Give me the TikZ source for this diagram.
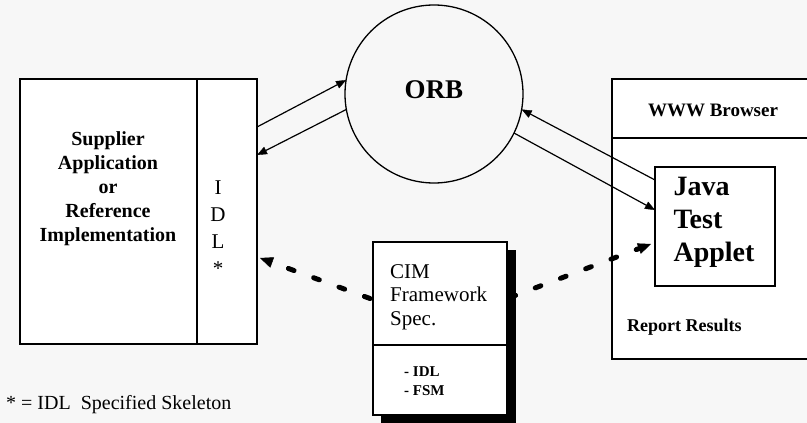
\documentclass[tikz,border=0pt]{standalone}
\usepackage{fontspec}
\setmainfont{Liberation Serif}
\usetikzlibrary{arrows.meta,calc}
\begin{document}
\begin{tikzpicture}[x=1pt,y=-1pt,
  box/.style={draw,line width=1.3pt,fill=white,inner sep=0pt,outer sep=0pt},
  conn/.style={line width=1.2pt,-{Triangle[length=10pt,width=8pt,line width=0.4pt]}},
  dconn/.style={line width=5pt,line cap=round,dash pattern=on 6pt off 21pt,-{Triangle[length=13pt,width=11pt,line width=0.4pt]}},
  txt/.style={inner sep=0pt}]
\clip (0,0) rectangle (807,423);
\fill[white!97!black] (0,0) rectangle (807,423);
% left boxes
\node[box,minimum width=177pt,minimum height=265pt] (supp) at (108.5,211.5) {};
\node[box,minimum width=60pt,minimum height=265pt] (idl) at (227,211.5) {};
% ORB
\node[circle,draw,line width=1.3pt,minimum size=178pt,inner sep=0pt,outer sep=0pt] (orb) at (434,94) {};
% browser
\node[box,minimum width=220pt,minimum height=59pt,anchor=north west] (bhead) at (612,79) {};
\node[box,minimum width=220pt,minimum height=221pt,anchor=north west] (bbody) at (612,138) {};
\node[box,minimum width=120pt,minimum height=119pt] (java) at (715,226.5) {};
% CIM
\fill (381,250) rectangle (516,423);
\node[box,minimum width=134pt,minimum height=103pt,anchor=north west] (cimtop) at (373,242) {};
\node[box,minimum width=134pt,minimum height=70pt,anchor=north west] (cimbot) at (373,345) {};
% texts
\node[txt,font=\bfseries\fontsize{20}{24}\selectfont,align=center] (supptext) at (108,189) {Supplier\\Application\\or\\Reference\\Implementation};
\node[txt,font=\fontsize{21}{27}\selectfont,align=center] (idltext) at (218,228) {I\\D\\L\\*};
\node[txt,font=\bfseries\fontsize{27}{30}\selectfont] (orbtext) at (434,90) {ORB};
\node[txt,font=\bfseries\fontsize{19}{22}\selectfont] (wwwtext) at (713,110) {WWW Browser};
\node[txt,font=\bfseries\fontsize{28}{33}\selectfont,align=left] (javatext) at (714,222) {Java\\Test\\Applet};
\node[txt,font=\bfseries\fontsize{18}{20}\selectfont,anchor=west] (report) at (627,327) {Report Results};
\node[txt,font=\fontsize{21}{23.5}\selectfont,align=left,anchor=west] (cimtext) at (390,297) {CIM\\Framework\\Spec.};
\node[txt,font=\bfseries\fontsize{15}{19}\selectfont,align=left,anchor=west] (cimlist) at (404,381) {- IDL\\- FSM};
\node[txt,font=\fontsize{20}{24}\selectfont,anchor=west] (foot) at (6,405) {* = IDL\ \ Specified Skeleton};
% connectors
\draw[conn] ($(idl.north east)+(0,48)$) -- (orb.171);
\draw[conn] (orb.190) -- ($(idl.north east)+(0,76)$);
\draw[conn] ($(java.north west)+(0,13)$) -- (orb.350);
\draw[conn] (orb.334) -- ($(java.north west)+(0,43)$);
\draw[dconn] ($(cimtop.west)+(-3,5)$) -- ($(idl.north east)+(3,179)$);
\draw[dconn] ($(cimtop.east)+(3,4)$) -- ($(java.north west)+(-4,77)$);
\end{tikzpicture}
\end{document}
